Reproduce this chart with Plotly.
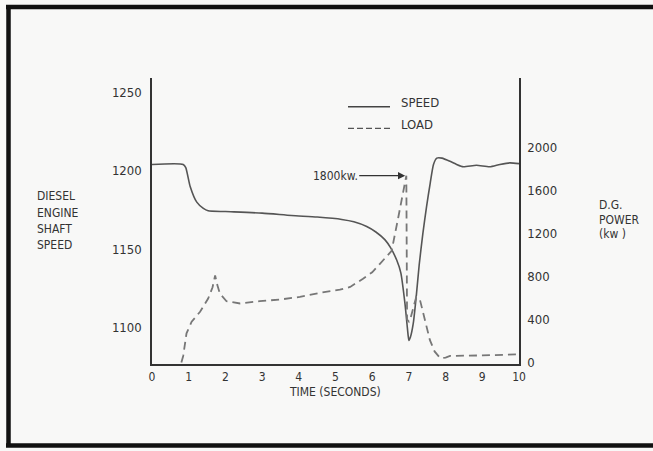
import plotly.graph_objects as go

# ---- data ----
time_ticks = list(range(0, 11))
speed_ticks = [1100, 1150, 1200, 1250]
power_ticks = [0, 400, 800, 1200, 1600, 2000]

speed_t = [0, 0.85, 0.92, 1.04, 1.22, 1.4, 1.53, 2.0, 3.0, 3.8, 4.5, 5.17, 5.5, 5.85,
           6.1, 6.35, 6.5, 6.67, 6.78, 6.89, 6.95, 6.98, 7.0, 7.04, 7.12, 7.2, 7.28,
           7.38, 7.48, 7.58, 7.67, 7.76, 7.9, 8.12, 8.3, 8.48, 8.84, 9.2, 9.48, 9.75, 10]
speed = [1204, 1204, 1202, 1190, 1180, 1176, 1174.5, 1174, 1173, 1171.5, 1170.5, 1169,
         1167.5, 1164.5, 1161, 1156, 1151, 1143, 1135, 1116, 1102, 1095, 1092, 1094,
         1103, 1120, 1140, 1160, 1177, 1192, 1204, 1208, 1208, 1206, 1204, 1202.5,
         1203.5, 1202.5, 1204, 1205, 1204.5]

load_t = [0.8, 0.85, 0.94, 1.08, 1.31, 1.53, 1.65, 1.72, 1.78, 1.85, 2.03, 2.4, 2.94,
          3.49, 4.03, 4.58, 5.12, 5.4, 5.75, 6.0, 6.21, 6.4, 6.53, 6.71, 6.85, 6.93,
          6.95, 7.0, 7.05, 7.12, 7.2, 7.3, 7.4, 7.48, 7.57, 7.7, 7.85, 8.0, 8.12, 9.0, 10]
load = [0, 60, 271, 379, 472, 595, 700, 811, 720, 641, 570, 549, 570, 586, 610, 648,
        678, 703, 780, 840, 918, 990, 1040, 1350, 1598, 1740, 400, 380, 420, 520, 610,
        585, 450, 333, 210, 102, 40, 45, 60, 65, 75]

peak_label = "1800kw."
peak_t = 6.9
peak_kw = 1740

FONT = "DejaVu Sans Condensed, DejaVu Sans, sans-serif"
INK = "#333333"

fig = go.Figure()
fig.add_trace(go.Scatter(x=speed_t, y=speed, mode="lines", name="SPEED",
                         line=dict(color="#555555", width=1.6, shape="spline",
                                   smoothing=0.6), yaxis="y"))
fig.add_trace(go.Scatter(x=load_t, y=load, mode="lines", name="LOAD",
                         line=dict(color="#777777", width=1.8, dash="8px,5px"),
                         yaxis="y2"))

# plot area in pixels: x 152..519, y 78..364
L, R, T, B = 152, 519, 78, 364
W, H = 653, 451
def px(x): return (x - L) / (R - L)
def py(y): return (B - y) / (B - T)

fig.update_layout(
    width=W, height=H,
    margin=dict(l=L, r=W - R, t=T, b=H - B),
    paper_bgcolor="#f8f8f7", plot_bgcolor="#f8f8f7",
    showlegend=False,
    font=dict(family=FONT, size=13, color=INK),
    xaxis=dict(range=[0, 10], tickvals=time_ticks, showgrid=False, zeroline=False,
               showline=True, linecolor="#333", linewidth=1.5,
               ticks="outside", ticklen=1, tickcolor="rgba(0,0,0,0)",
               tickfont=dict(size=12, color=INK)),
    yaxis=dict(range=[1077, 1259], tickvals=speed_ticks, showgrid=False, zeroline=False,
               showline=True, linecolor="#333", linewidth=1.5,
               ticks="outside", ticklen=6, tickcolor="rgba(0,0,0,0)",
               tickfont=dict(size=13, color=INK)),
    yaxis2=dict(range=[-15, 2650], tickvals=power_ticks, overlaying="y", side="right",
                showgrid=False, zeroline=False, showline=True, linecolor="#333",
                linewidth=1.5, ticks="outside", ticklen=4, tickcolor="rgba(0,0,0,0)",
                tickfont=dict(size=13, color=INK)),
)

shapes = []
# frame (top, left, bottom)
shapes.append(dict(type="line", xref="paper", yref="paper", x0=px(6), x1=px(653),
                   y0=py(7), y1=py(7), line=dict(color="#111", width=4.5)))
shapes.append(dict(type="line", xref="paper", yref="paper", x0=px(8.5), x1=px(8.5),
                   y0=py(5), y1=py(447), line=dict(color="#111", width=4.5)))
shapes.append(dict(type="line", xref="paper", yref="paper", x0=px(6), x1=px(653),
                   y0=py(445.5), y1=py(445.5), line=dict(color="#111", width=4.5)))
# legend samples
shapes.append(dict(type="line", xref="paper", yref="paper", x0=px(348), x1=px(390),
                   y0=py(106.7), y1=py(106.7), line=dict(color="#444", width=1.5)))
shapes.append(dict(type="line", xref="paper", yref="paper", x0=px(348), x1=px(390),
                   y0=py(128.3), y1=py(128.3),
                   line=dict(color="#555", width=1.3, dash="6px,3px")))
fig.update_layout(shapes=shapes)

ann = []
ann.append(dict(text="SPEED", xref="paper", yref="paper", x=px(399), y=py(102),
                xanchor="left", yanchor="middle", showarrow=False, font=dict(size=13)))
ann.append(dict(text="LOAD", xref="paper", yref="paper", x=px(399), y=py(124),
                xanchor="left", yanchor="middle", showarrow=False, font=dict(size=13)))
for txt, yy in zip(["DIESEL", "ENGINE", "SHAFT", "SPEED"], [196, 213, 229, 245]):
    ann.append(dict(text=txt, xref="paper", yref="paper", x=px(35), y=py(yy),
                    xanchor="left", yanchor="middle", showarrow=False,
                    font=dict(size=12)))
for txt, yy in zip(["D.G.", "POWER", "(kw )"], [205, 220, 234]):
    ann.append(dict(text=txt, xref="paper", yref="paper", x=px(597), y=py(yy),
                    xanchor="left", yanchor="middle", showarrow=False,
                    font=dict(size=12)))
ann.append(dict(text="TIME (SECONDS)", xref="paper", yref="paper", x=px(335), y=py(392),
                xanchor="center", yanchor="middle", showarrow=False, font=dict(size=12)))
ann.append(dict(text=peak_label, x=peak_t, y=peak_kw, xref="x", yref="y2",
                showarrow=True, arrowhead=2, arrowsize=1.2, arrowwidth=1.2,
                arrowcolor="#333", ax=-70, ay=0, font=dict(size=12)))
fig.update_layout(annotations=ann)

fig.write_html("out.html",
               config={"displayModeBar": False},
               post_script="document.body.style.margin='0';"
                           "document.body.style.overflow='hidden';")
